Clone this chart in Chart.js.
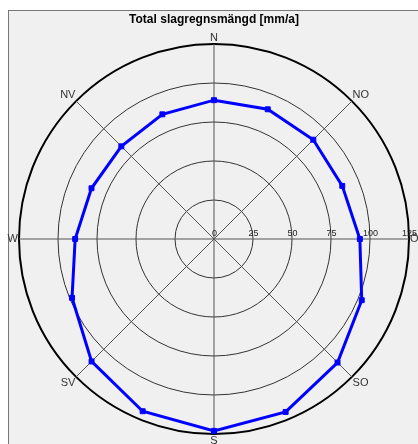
<!DOCTYPE html>
<html>
<head>
<meta charset="utf-8">
<script src="https://cdn.jsdelivr.net/npm/chart.js@4"></script>
<style>
  body { margin: 0; background: #fff; }
  #panel { position: absolute; left: 8px; top: 10px; width: 420px; height: 440px;
           background: #f0f0f0; border-left: 1px solid #777; border-top: 1px solid #777; }
  #myChart { position: absolute; left: 0; top: 0; }
</style>
</head>
<body>
<div id="panel"></div>
<canvas id="myChart" width="418" height="444"></canvas>
<script>
// 16 directions, only the main ones are labelled
const directions = ['N', '', 'NO', '', 'Ö', '', 'SO', '', 'S', '', 'SV', '', 'W', '', 'NV', ''];
const rainValues = [89, 90, 90, 89, 93.5, 102.5, 112, 120, 123, 119.5, 111, 98.5, 89, 85, 84, 86.5];
const tickValues = [0, 25, 50, 75, 100, 125];

const FONT = '"Liberation Sans", Arial, sans-serif';

// draws direction names and ring values the way the original does
const labelPlugin = {
  id: 'labels',
  afterDraw(chart) {
    const r = chart.scales.r;
    const ctx = chart.ctx;
    ctx.save();
    ctx.fillStyle = '#333';
    ctx.font = '11px ' + FONT;
    directions.forEach((d, i) => {
      if (!d) return;
      const p = r.getPointPosition(i, r.drawingArea + 1);
      const dx = p.x - r.xCenter, dy = p.y - r.yCenter;
      ctx.textAlign = dx > 1 ? 'left' : dx < -1 ? 'right' : 'center';
      ctx.textBaseline = dy < -1 ? 'bottom' : dy > 1 ? 'top' : 'middle';
      ctx.fillText(d, p.x, p.y);
    });
    ctx.font = '9px ' + FONT;
    ctx.fillStyle = '#222';
    ctx.textAlign = 'center';
    ctx.textBaseline = 'bottom';
    tickValues.forEach(v => {
      const x = r.xCenter + r.getDistanceFromCenterForValue(v);
      ctx.fillText(String(v), x + 0.5, r.yCenter - 1);
    });
    ctx.restore();
  }
};

new Chart(document.getElementById('myChart'), {
  type: 'radar',
  data: {
    labels: directions,
    datasets: [{
      data: rainValues,
      borderColor: '#0000ff',
      backgroundColor: '#0000ff',
      borderWidth: 3,
      pointStyle: 'rect',
      pointRadius: 3.5,
      pointBorderWidth: 1,
      fill: false,
      tension: 0
    }]
  },
  options: {
    responsive: false,
    animation: false,
    layout: { padding: { left: 19, right: 9, top: 0, bottom: 10 } },
    plugins: {
      legend: { display: false },
      tooltip: { enabled: false },
      title: {
        display: true,
        text: 'Total slagregnsmängd [mm/a]',
        color: '#000',
        font: { family: FONT, size: 12, weight: 'bold', lineHeight: 1.2 },
        padding: { top: 12, bottom: 17.6 }
      }
    },
    scales: {
      r: {
        min: 0,
        max: 125,
        ticks: { display: false, stepSize: 25 },
        pointLabels: { display: false },
        grid: {
          circular: true,
          color: c => c.tick && c.tick.value === 125 ? '#000' : '#333',
          lineWidth: c => c.tick && c.tick.value === 125 ? 2 : 1
        },
        angleLines: {
          color: c => directions[c.index] ? '#555' : 'rgba(0,0,0,0)',
          lineWidth: 1
        }
      }
    }
  },
  plugins: [labelPlugin]
});
</script>
</body>
</html>
